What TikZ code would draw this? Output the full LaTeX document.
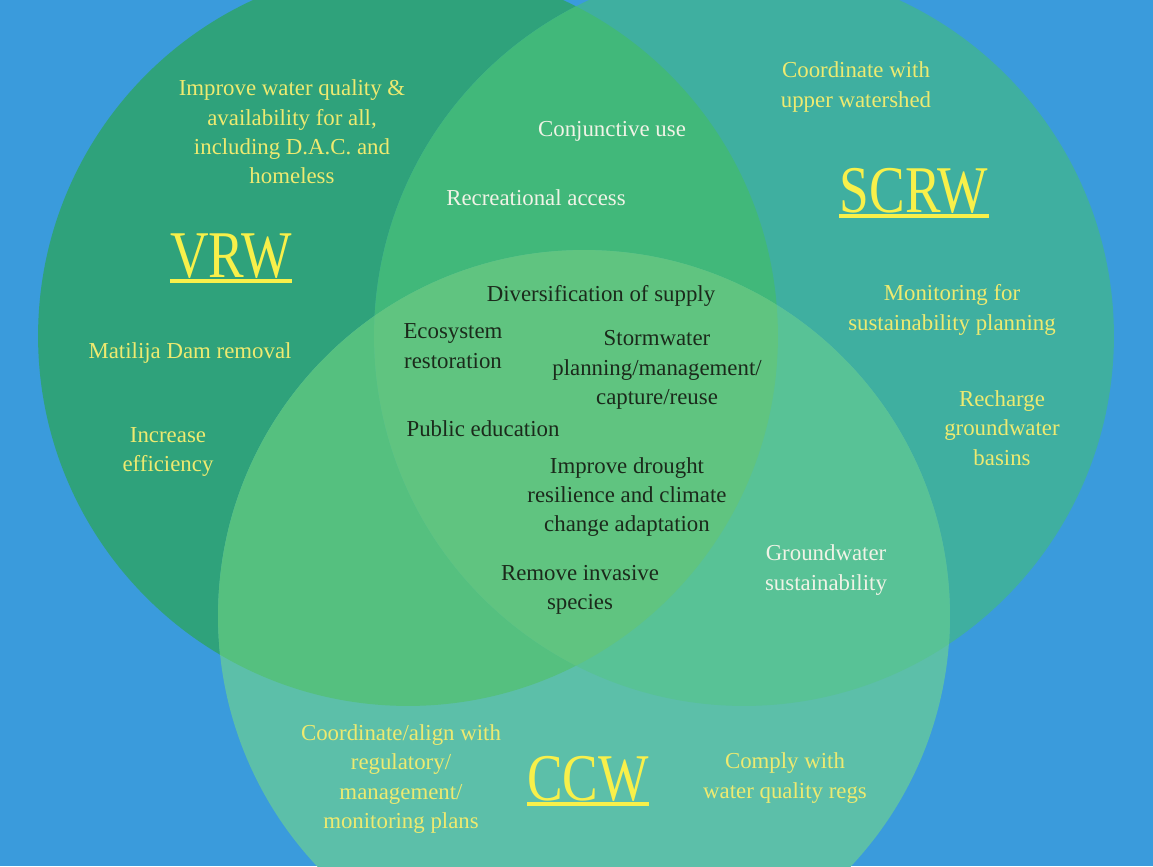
\documentclass[tikz,border=0pt]{standalone}
\usepackage{fontspec}
\setmainfont{Liberation Serif}
\definecolor{bg}{HTML}{3A9BDC}
\definecolor{vonly}{HTML}{2FA27B}
\definecolor{sonly}{HTML}{3FAFA0}
\definecolor{conly}{HTML}{5CBFA9}
\definecolor{vs}{HTML}{41B87A}
\definecolor{vc}{HTML}{55C07F}
\definecolor{sc}{HTML}{58C296}
\definecolor{vsc}{HTML}{60C480}
\definecolor{yel}{HTML}{EEEA70}
\definecolor{tyel}{HTML}{F8F04A}
\definecolor{wht}{HTML}{F0F3E6}
\definecolor{blk}{HTML}{1B2A1B}
\tikzset{
  itm/.style={align=center, inner sep=0pt, text=yel, font=\fontsize{13}{16.7}\selectfont},
  wtxt/.style={itm, text=wht},
  btxt/.style={itm, text=blk},
  ttl/.style={inner sep=0pt, anchor=base, text=tyel, font=\fontsize{38}{40}\selectfont},
  uline/.style={draw=tyel, line width=2.3pt}
}
\begin{document}
\begin{tikzpicture}[x=0.02cm,y=-0.02cm]
\useasboundingbox (0,0) rectangle (1153,866);
\fill[bg] (0,0) rectangle (1153,866);
\coordinate (V) at (408,336);
\coordinate (S) at (744,336);
\coordinate (C) at (584,616);
\fill[vonly] (V) circle[radius=7.4cm];
\fill[sonly] (S) circle[radius=7.4cm];
\fill[conly] (C) circle[radius=7.32cm];
\begin{scope}
  \clip (V) circle[radius=7.4cm];
  \fill[vs] (S) circle[radius=7.4cm];
  \fill[vc] (C) circle[radius=7.32cm];
\end{scope}
\begin{scope}
  \clip (S) circle[radius=7.4cm];
  \fill[sc] (C) circle[radius=7.32cm];
\end{scope}
\begin{scope}
  \clip (V) circle[radius=7.4cm];
  \clip (S) circle[radius=7.4cm];
  \fill[vsc] (C) circle[radius=7.32cm];
\end{scope}

% titles
\node[ttl] (vrw) at (231,277) {\scalebox{0.8}[1]{VRW}};
\node[ttl] (scrw) at (914,212) {\scalebox{0.8}[1]{SCRW}};
\node[ttl] (ccw) at (588,800) {\scalebox{0.8}[1]{CCW}};
\draw[uline] ([yshift=-2.4pt]vrw.base west) -- ([yshift=-2.4pt]vrw.base east);
\draw[uline] ([yshift=-2.4pt]scrw.base west) -- ([yshift=-2.4pt]scrw.base east);
\draw[uline] ([yshift=-2.4pt]ccw.base west) -- ([yshift=-2.4pt]ccw.base east);

% VRW only
\node[itm] (imp) at (292,132) {Improve water quality \&\\availability for all,\\including D.A.C. and\\homeless};
\node[itm] (mat) at (190,353) {Matilija Dam removal};
\node[itm] (inc) at (168,452) {Increase\\efficiency};

% VRW & SCRW
\node[wtxt] (conj) at (612,131) {Conjunctive use};
\node[wtxt] (rec) at (536,198) {Recreational access};

% SCRW only
\node[itm] (coord) at (856,87) {Coordinate with\\upper watershed};
\node[itm] (mon) at (952,310) {Monitoring for\\sustainability planning};
\node[itm] (rech) at (1002,428) {Recharge\\groundwater\\basins};

% center
\node[btxt] (div) at (601,296) {Diversification of supply};
\node[btxt] (eco) at (453,346) {Ecosystem\\restoration};
\node[btxt] (storm) at (657,370) {Stormwater\\planning/management/\\capture/reuse};
\node[btxt] (pub) at (483,429) {Public education};
\node[btxt] (drought) at (627,497) {Improve drought\\resilience and climate\\change adaptation};
\node[btxt] (remove) at (580,590) {Remove invasive\\species};

% SCRW & CCW
\node[wtxt] (gw) at (826,570) {Groundwater\\sustainability};

% CCW only
\node[itm] (align) at (401,779) {Coordinate/align with\\regulatory/\\management/\\monitoring plans};
\node[itm] (comply) at (785,778) {Comply with\\water quality regs};
\end{tikzpicture}
\end{document}
